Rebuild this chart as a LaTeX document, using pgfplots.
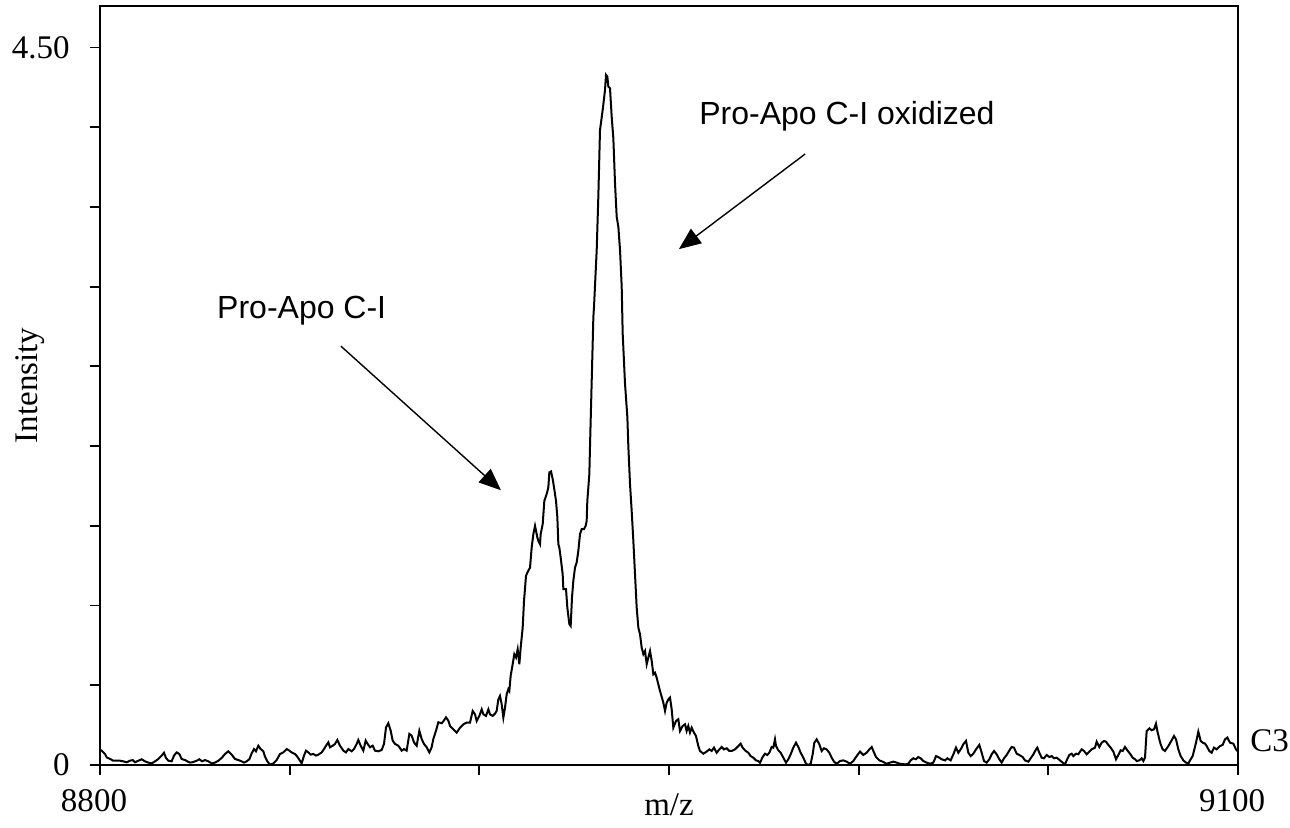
\documentclass[border=0pt]{standalone}
\usepackage{fontspec}
\setmainfont{Liberation Serif}
\newfontfamily\arial{Liberation Sans}
\usepackage{pgfplots}
\pgfplotsset{compat=1.18}
\usetikzlibrary{arrows.meta}

\begin{document}
\begin{tikzpicture}
\begin{axis}[
  at={(0,0)}, anchor=south west,
  scale only axis,
  width=569pt, height=379.5pt,
  xmin=8800, xmax=9100,
  ymin=0, ymax=4.76,
  tick pos=left,
  tick align=outside,
  major tick length=5pt,
  axis line style={line width=0.9pt},
  every tick/.style={black, line width=0.9pt},
  xtick={8800,8850,8900,8950,9000,9050,9100},
  xticklabels={8800,,,,,,9100},
  ytick={0,0.5,1,1.5,2,2.5,3,3.5,4,4.5},
  yticklabels={0,,,,,,,,,4.50},
  ticklabel style={font=\fontsize{16.5}{19}\selectfont, inner sep=0pt},
  yticklabel style={xshift=-10pt},
  xticklabel style={yshift=-7pt, xshift=-3pt},
  xlabel={m/z},
  ylabel={Intensity},
  label style={font=\fontsize{16.5}{19}\selectfont},
  xlabel style={at={(axis description cs:0.5,-0.0527)}, anchor=center},
  ylabel style={at={(axis description cs:-0.0615,0.5)}, anchor=center},
  clip=false,
]
\addplot[black, line width=1pt, sharp plot] table {
8800.00 0.095
8800.44 0.090
8801.32 0.069
8801.76 0.048
8802.64 0.038
8803.51 0.027
8804.39 0.027
8805.27 0.027
8806.15 0.023
8807.03 0.017
8807.91 0.027
8808.61 0.031
8809.23 0.017
8810.11 0.027
8810.98 0.036
8811.86 0.023
8812.74 0.015
8813.62 0.010
8814.50 0.023
8815.38 0.038
8816.26 0.059
8816.87 0.077
8817.40 0.044
8818.01 0.027
8818.89 0.023
8819.51 0.059
8820.21 0.079
8820.91 0.069
8821.53 0.038
8822.41 0.031
8823.02 0.023
8823.73 0.015
8824.60 0.019
8825.48 0.027
8826.19 0.036
8826.89 0.023
8827.68 0.031
8828.56 0.023
8829.44 0.010
8830.32 0.015
8831.20 0.027
8832.07 0.044
8832.95 0.069
8833.83 0.086
8834.71 0.065
8835.59 0.038
8836.47 0.031
8837.35 0.023
8837.96 0.015
8838.66 0.023
8839.37 0.036
8839.98 0.073
8840.60 0.100
8841.12 0.086
8841.74 0.121
8842.36 0.100
8843.06 0.086
8843.50 0.052
8844.11 0.023
8844.82 0.002
8845.69 0.010
8846.57 0.031
8847.45 0.069
8848.33 0.079
8849.21 0.100
8849.91 0.090
8850.53 0.079
8851.41 0.069
8852.02 0.052
8852.72 0.027
8853.16 0.010
8853.78 0.059
8854.31 0.090
8854.92 0.079
8855.54 0.065
8856.24 0.069
8856.94 0.059
8857.56 0.065
8858.44 0.079
8859.05 0.100
8859.58 0.121
8860.19 0.142
8860.63 0.111
8861.34 0.121
8861.95 0.132
8862.57 0.157
8863.27 0.121
8864.15 0.090
8864.85 0.079
8865.47 0.100
8866.34 0.086
8866.96 0.100
8867.66 0.132
8868.10 0.157
8868.72 0.121
8869.42 0.090
8870.04 0.153
8870.47 0.136
8871.18 0.111
8871.88 0.121
8872.50 0.090
8873.37 0.086
8874.25 0.094
8874.87 0.132
8875.40 0.236
8876.01 0.262
8876.63 0.215
8877.15 0.153
8877.77 0.132
8878.65 0.121
8879.53 0.090
8880.14 0.100
8880.84 0.090
8881.55 0.195
8882.16 0.184
8882.78 0.142
8883.48 0.121
8884.18 0.215
8884.80 0.163
8885.41 0.132
8886.12 0.111
8886.82 0.079
8887.43 0.111
8887.87 0.163
8888.58 0.215
8889.19 0.268
8890.07 0.262
8890.51 0.274
8891.21 0.299
8891.83 0.278
8892.27 0.245
8893.15 0.224
8894.03 0.203
8894.91 0.234
8895.79 0.255
8896.66 0.266
8897.54 0.266
8898.25 0.339
8898.86 0.318
8899.30 0.276
8900.00 0.308
8900.62 0.349
8901.06 0.318
8901.76 0.308
8902.38 0.349
8902.81 0.318
8903.52 0.308
8904.13 0.322
8904.57 0.339
8905.01 0.412
8905.45 0.433
8905.89 0.381
8906.33 0.297
8906.77 0.360
8907.21 0.444
8907.65 0.475
8907.91 0.464
8908.26 0.559
8908.79 0.632
8909.23 0.695
8909.67 0.674
8910.11 0.726
8910.55 0.632
8910.90 0.736
8911.43 0.862
8911.78 1.029
8912.30 1.186
8912.66 1.207
8913.36 1.238
8913.80 1.364
8914.24 1.448
8914.68 1.500
8915.29 1.427
8915.56 1.406
8916.00 1.385
8916.17 1.448
8916.70 1.510
8917.14 1.657
8917.75 1.699
8918.19 1.741
8918.46 1.835
8918.90 1.841
8919.34 1.793
8919.69 1.741
8920.21 1.657
8920.57 1.552
8920.83 1.385
8921.09 1.364
8921.44 1.301
8921.97 1.197
8922.15 1.103
8922.85 1.103
8923.20 0.987
8923.73 0.883
8924.08 0.872
8924.43 1.050
8924.78 1.155
8925.22 1.238
8925.66 1.270
8926.10 1.343
8926.54 1.448
8926.98 1.479
8927.59 1.479
8928.03 1.500
8928.30 1.531
8928.47 1.657
8929.00 1.824
8929.15 1.974
8930.06 2.810
8930.23 2.873
8930.94 3.229
8931.37 3.564
8931.81 3.982
8932.52 4.108
8933.13 4.233
8933.40 4.328
8933.75 4.317
8934.01 4.254
8934.45 4.244
8934.89 4.066
8935.33 3.930
8935.77 3.648
8936.21 3.438
8936.65 3.375
8937.09 3.229
8937.53 2.999
8937.79 2.706
8938.40 2.393
8939.02 2.183
8939.28 2.000
8939.72 1.762
8940.16 1.594
8940.60 1.406
8941.04 1.197
8941.48 0.987
8941.92 0.862
8942.36 0.820
8942.80 0.736
8943.24 0.695
8943.68 0.715
8944.12 0.632
8944.56 0.674
8945.00 0.715
8945.44 0.653
8945.87 0.569
8946.31 0.579
8946.75 0.548
8947.19 0.506
8947.63 0.464
8948.51 0.391
8948.95 0.339
8949.39 0.391
8949.83 0.412
8950.27 0.423
8950.71 0.349
8951.14 0.234
8951.84 0.276
8952.46 0.287
8952.90 0.213
8953.60 0.245
8954.22 0.255
8954.65 0.213
8955.09 0.245
8955.53 0.203
8955.97 0.234
8956.59 0.203
8957.11 0.182
8957.73 0.119
8958.17 0.088
8959.05 0.071
8959.93 0.084
8960.63 0.098
8961.25 0.088
8961.86 0.109
8962.56 0.077
8963.27 0.098
8963.88 0.113
8964.50 0.098
8965.20 0.105
8965.90 0.088
8966.52 0.088
8967.40 0.098
8968.28 0.119
8968.89 0.134
8969.42 0.109
8970.03 0.092
8970.91 0.077
8971.53 0.056
8972.23 0.046
8972.93 0.029
8973.55 0.025
8973.99 0.015
8974.69 0.050
8975.31 0.071
8975.92 0.063
8976.45 0.077
8977.06 0.113
8977.50 0.109
8977.94 0.161
8978.21 0.119
8978.82 0.092
8979.44 0.077
8980.14 0.046
8980.84 0.015
8981.46 0.036
8982.07 0.067
8982.77 0.109
8983.48 0.140
8984.09 0.113
8984.71 0.077
8985.41 0.046
8986.11 0.008
8986.73 0.000
8987.35 0.008
8987.87 0.067
8988.31 0.140
8988.93 0.161
8989.63 0.130
8990.24 0.088
8990.86 0.105
8991.56 0.098
8992.27 0.077
8992.88 0.046
8993.50 0.021
8994.20 0.008
8995.08 0.025
8995.96 0.029
8996.84 0.021
8997.72 0.008
8998.59 0.025
8999.47 0.056
9000.35 0.084
9001.23 0.063
9002.11 0.077
9002.81 0.098
9003.43 0.113
9003.87 0.088
9004.57 0.050
9005.45 0.029
9006.33 0.021
9007.38 0.008
9008.26 0.015
9009.14 0.021
9010.02 0.015
9010.90 0.008
9012.22 0.004
9013.09 0.008
9013.71 0.029
9014.41 0.042
9015.12 0.036
9015.73 0.050
9016.35 0.042
9017.05 0.025
9017.93 0.015
9018.81 0.008
9019.69 0.015
9020.39 0.056
9021.00 0.050
9021.88 0.036
9022.76 0.029
9023.38 0.042
9024.25 0.029
9024.96 0.067
9025.66 0.109
9026.28 0.077
9026.89 0.098
9027.59 0.130
9028.30 0.151
9028.91 0.077
9029.53 0.056
9030.23 0.071
9030.93 0.098
9031.81 0.126
9032.43 0.077
9033.04 0.025
9033.74 0.015
9034.45 0.036
9035.06 0.067
9035.68 0.088
9036.38 0.067
9037.08 0.036
9037.70 0.015
9038.31 0.042
9039.02 0.063
9039.90 0.098
9040.33 0.113
9040.95 0.109
9041.65 0.071
9042.36 0.063
9043.23 0.050
9043.85 0.029
9044.73 0.021
9045.34 0.042
9046.05 0.067
9046.75 0.098
9047.10 0.109
9047.63 0.077
9048.24 0.046
9048.86 0.042
9049.56 0.063
9050.26 0.050
9050.88 0.056
9051.49 0.042
9052.20 0.046
9053.08 0.029
9053.78 0.015
9054.40 0.004
9054.83 0.029
9055.54 0.063
9056.15 0.071
9056.59 0.056
9057.29 0.071
9057.91 0.067
9058.35 0.084
9058.79 0.098
9059.40 0.088
9060.11 0.067
9060.81 0.084
9061.42 0.098
9062.30 0.109
9062.74 0.146
9063.45 0.113
9064.06 0.140
9064.68 0.151
9065.20 0.146
9065.82 0.126
9066.43 0.109
9067.14 0.084
9067.84 0.036
9068.45 0.063
9069.07 0.092
9069.60 0.088
9070.21 0.113
9070.83 0.092
9071.53 0.071
9072.23 0.046
9072.85 0.036
9073.29 0.025
9073.99 0.029
9074.61 0.042
9075.04 0.025
9075.48 0.046
9075.92 0.213
9076.63 0.230
9077.24 0.218
9077.86 0.224
9078.38 0.259
9078.74 0.213
9079.26 0.161
9079.61 0.130
9080.14 0.098
9080.76 0.088
9081.64 0.119
9082.51 0.155
9083.13 0.182
9083.66 0.161
9084.27 0.098
9084.89 0.056
9085.59 0.029
9086.29 0.015
9086.91 0.008
9087.35 0.029
9088.05 0.056
9088.93 0.140
9089.54 0.209
9090.16 0.151
9090.69 0.140
9091.30 0.134
9091.74 0.119
9092.44 0.088
9093.06 0.077
9093.67 0.109
9094.38 0.098
9095.26 0.119
9095.96 0.126
9096.57 0.161
9097.19 0.172
9097.89 0.140
9098.77 0.134
9099.47 0.098
9099.82 0.088
};
\node[anchor=base west, inner sep=0pt, font=\arial\fontsize{16}{19}\selectfont]
  at (axis cs:8957.9,4.014) {Pro-Apo C-I oxidized};
\node[anchor=base west, inner sep=0pt, font=\arial\fontsize{16}{19}\selectfont]
  at (axis cs:8830.8,2.802) {Pro-Apo C-I};
\draw[line width=0.7pt, -{Triangle[length=11pt,width=9pt]}]
  (axis cs:8985.9,3.832) -- (axis cs:8952.6,3.235);
\draw[line width=0.7pt, -{Triangle[length=11pt,width=9pt]}]
  (axis cs:8863.5,2.627) -- (axis cs:8905.7,1.723);
\node[anchor=west, inner sep=0pt, font=\fontsize{16.5}{19}\selectfont]
  at (axis cs:9100,0.15) [xshift=6pt] {C3};
\end{axis}
\path (-50pt,-31pt) rectangle (595pt,382.5pt);
\end{tikzpicture}
\end{document}
